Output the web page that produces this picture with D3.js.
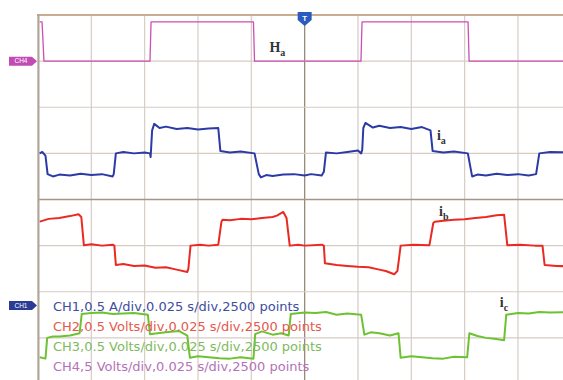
<!DOCTYPE html>
<html><head><meta charset="utf-8">
<script src="https://cdn.jsdelivr.net/npm/d3@7"></script>
<style>html,body{margin:0;padding:0;background:#fff;}svg{display:block;}</style>
</head><body>
<svg id="c" width="563" height="380"></svg>
<script>
// time in ms (0.025 s/div, 10 div), values in screen divisions (-4..4)
const timeTicks = [0,25,50,75,100,125,150,175,200,225,250];
const divTicks = [-4,-3,-2,-1,0,1,2,3,4];

const ha = [[0.8,3.85],[1.9,3.85],[2.8,3.0],[52.5,3.0],[53.0,3.85],[101.0,3.85],[101.5,3.0],[151.4,3.0],[151.9,3.85],[201.6,3.85],[202.1,3.0],[250,3.0]];

const ia = [[0.8,1.0],[2,1.03],[3.5,0.95],[4.5,0.55],[7,0.5],[10,0.54],[15,0.52],[20,0.56],[25,0.53],[30,0.55],[35,0.50],[35.5,0.55],[36.5,1.0],[40,1.03],[45,1.0],[50,1.02],[52.5,1.0],[52.8,0.92],[53.5,1.5],[54.5,1.64],[57,1.55],[60,1.58],[65,1.53],[70,1.55],[75,1.52],[80,1.54],[84.5,1.55],[85.5,1.05],[90,1.02],[95,1.04],[101.5,1.0],[103.5,0.55],[104.5,0.48],[107,0.53],[110,0.51],[115,0.54],[120,0.55],[125,0.52],[128,0.55],[133,0.52],[134,0.6],[135,1.02],[140,1.0],[145,1.03],[150,1.06],[151.5,1.0],[152,1.08],[152.5,1.55],[153.5,1.66],[157,1.56],[160,1.6],[165,1.55],[170,1.57],[175,1.53],[180,1.57],[184,1.5],[185,1.05],[190,1.02],[195,1.04],[201.5,1.0],[203.5,0.5],[206,0.54],[210,0.52],[215,0.56],[220,0.53],[225,0.55],[230,0.52],[233.5,0.55],[235,1.0],[240,1.03],[250,1.02]];

const ib = [[0.8,-0.48],[5,-0.42],[10,-0.40],[15,-0.36],[19,-0.32],[20.3,-0.38],[21.5,-0.99],[25,-0.97],[30,-1.0],[35,-0.98],[35.8,-1.0],[36.5,-1.42],[40,-1.4],[45,-1.44],[50,-1.43],[55,-1.48],[60,-1.47],[65,-1.52],[70,-1.57],[70.5,-1.5],[71.5,-1.0],[76,-0.98],[80,-1.0],[84.5,-0.98],[86,-0.48],[86.5,-0.44],[90,-0.45],[95,-0.42],[100,-0.43],[105,-0.40],[110,-0.38],[112,-0.35],[115,-0.27],[116.5,-0.4],[118,-1.0],[122,-0.98],[125,-1.0],[133,-0.98],[134,-1.0],[134.5,-1.38],[140,-1.42],[145,-1.44],[150,-1.46],[155,-1.47],[160,-1.52],[163,-1.55],[167,-1.62],[168.5,-1.55],[170,-1.0],[176,-0.98],[183.5,-0.99],[185.3,-0.51],[186,-0.48],[190,-0.46],[195,-0.44],[200,-0.43],[205,-0.40],[210,-0.38],[215,-0.34],[218.5,-0.33],[220,-0.99],[226,-0.98],[233,-1.0],[236.5,-1.0],[237.5,-1.42],[243,-1.44],[250,-1.45]];

const ic = [[0.8,-3.42],[3.5,-3.45],[4.3,-3.0],[7,-2.97],[10,-2.97],[15,-2.95],[19.5,-2.9],[20.5,-2.48],[25,-2.46],[30,-2.45],[35,-2.48],[40,-2.47],[45,-2.46],[51.5,-2.5],[52.5,-2.92],[56,-2.9],[60,-2.88],[66,-2.85],[70,-2.95],[71.2,-3.43],[75,-3.4],[80,-3.42],[85,-3.44],[90,-3.45],[95,-3.42],[101,-3.45],[101.8,-2.92],[105,-2.86],[110,-2.93],[114,-2.9],[117.5,-2.95],[118.5,-2.48],[125,-2.45],[130,-2.46],[135,-2.44],[140,-2.5],[145,-2.47],[151.5,-2.5],[153,-2.93],[156,-2.88],[160,-2.9],[165,-2.95],[169,-2.9],[170,-3.43],[175,-3.4],[180,-3.42],[185,-3.44],[190,-3.45],[195,-3.41],[201.2,-3.42],[202.2,-2.9],[206,-2.96],[210,-3.0],[214,-3.02],[218.5,-3.05],[219.5,-2.5],[225,-2.46],[230,-2.47],[235,-2.44],[240,-2.45],[250,-2.44]];

const legendLines = ["CH1,0.5 A/div,0.025 s/div,2500 points","CH2,0.5 Volts/div,0.025 s/div,2500 points","CH3,0.5 Volts/div,0.025 s/div,2500 points","CH4,5 Volts/div,0.025 s/div,2500 points"];
const traceLabels = [{b:"H",s:"a",t:108.5,v:3.2},{b:"i",s:"a",t:187,v:1.29},{b:"i",s:"b",t:188,v:-0.36},{b:"i",s:"c",t:216.5,v:-2.33}];
const markers = [{name:"CH4",v:3.0},{name:"CH1",v:-2.3}];

const svg = d3.select("#c");
const x = d3.scaleLinear().domain([0,250]).range([38,571.3]);
const y = d3.scaleLinear().domain([-4,4]).range([384,15]);

svg.append("defs").append("clipPath").attr("id","pc").append("rect")
  .attr("x",39).attr("y",15).attr("width",540).attr("height",370);

const grid = svg.append("g");
grid.selectAll(".v").data(timeTicks).join("line")
  .attr("x1",d=>x(d)).attr("x2",d=>x(d)).attr("y1",15).attr("y2",384)
  .attr("stroke",d=>d===125?"#9a8878":"#d6ccc4").attr("stroke-width",d=>d===125?1.3:1.2);
grid.selectAll(".h").data(divTicks).join("line")
  .attr("x1",38).attr("x2",571).attr("y1",d=>y(d)).attr("y2",d=>y(d))
  .attr("stroke",d=>d===0?"#a89484":"#d6ccc4").attr("stroke-width",d=>d===0?1.3:1.2);
// frame
svg.append("line").attr("x1",37).attr("x2",571).attr("y1",15).attr("y2",15).attr("stroke","#c8ad90").attr("stroke-width",2.2);
svg.append("line").attr("x1",38.5).attr("x2",38.5).attr("y1",14).attr("y2",384).attr("stroke","#b0a498").attr("stroke-width",2);

const line = d3.line().x(d=>x(d[0])).y(d=>y(d[1]));
const traces = svg.append("g").attr("clip-path","url(#pc)");
[[ha,"#cc4fb4",1.3],[ia,"#2b3aa6",2],[ib,"#ea2a22",2],[ic,"#6cc232",2]].forEach(([d,c,w])=>{
  traces.append("path").datum(d).attr("d",line).attr("fill","none").attr("stroke",c).attr("stroke-width",w).attr("stroke-linejoin","round");
});

// legend text
const lcol = ["#3e4da0","#e5584e","#7dbb5e","#b472b8"];
svg.selectAll(".lg").data(legendLines).join("text")
  .attr("x",53).attr("y",(d,i)=>311+i*20).attr("fill",(d,i)=>lcol[i])
  .attr("font-family","DejaVu Sans, Verdana, sans-serif").attr("font-size",13)
  .text(d=>d);

// trace labels
traceLabels.forEach(l=>{
  const t = svg.append("text").attr("x",x(l.t)).attr("y",y(l.v))
    .attr("font-family","Liberation Serif, DejaVu Serif, serif").attr("font-weight","bold").attr("fill","#333").attr("font-size",14);
  t.append("tspan").text(l.b);
  t.append("tspan").attr("font-size",10).attr("dy",4).text(l.s);
});

// channel markers
markers.forEach(m=>{
  const cy = y(m.v);
  const col = m.name==="CH4"?"#c24cb4":"#2a3c94";
  svg.append("path").attr("d",`M9,${cy-4.5}H32L37,${cy}L32,${cy+4.5}H9Z`).attr("fill",col);
  svg.append("text").attr("x",21).attr("y",cy+2.3).attr("text-anchor","middle").attr("fill","#fff")
    .attr("font-family","Liberation Sans, Arial, sans-serif").attr("font-size",6.5).text(m.name);
});

// trigger marker
const tx = x(125);
svg.append("path").attr("d",`M${tx-7},12H${tx+7}V20L${tx},26L${tx-7},20Z`).attr("fill","#2a5cc0");
svg.append("text").attr("x",tx).attr("y",21).attr("text-anchor","middle").attr("fill","#fff")
  .attr("font-family","Liberation Sans, Arial, sans-serif").attr("font-weight","bold").attr("font-size",8).text("T");
</script>
</body></html>
